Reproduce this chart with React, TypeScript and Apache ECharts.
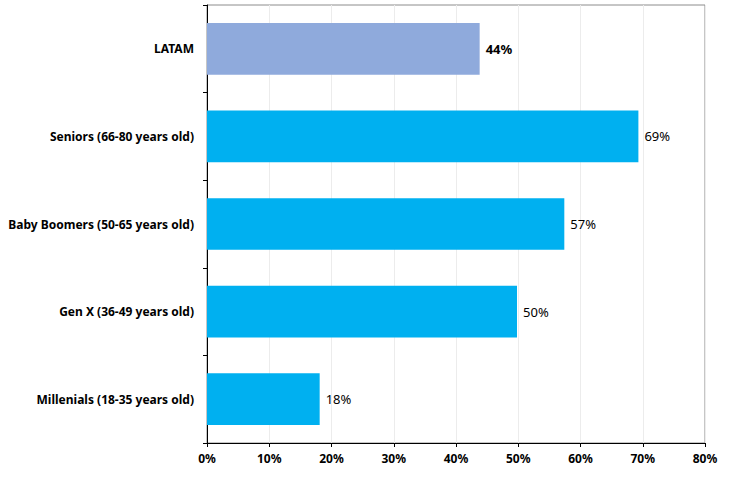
import React, { useEffect, useRef } from "react";
import * as echarts from "echarts";

const categories = [
  "Millenials (18-35 years old)",
  "Gen X (36-49 years old)",
  "Baby Boomers (50-65 years old)",
  "Seniors (66-80 years old)",
  "LATAM",
];
const values = [18.1, 49.8, 57.4, 69.3, 43.8];
const highlight = "LATAM";
const xTicks = { min: 0, max: 80, interval: 10 };

export default function App() {
  const ref = useRef<HTMLDivElement>(null);
  useEffect(() => {
    if (!ref.current) return;
    const chart = echarts.init(ref.current, undefined, { renderer: "svg" });
    const font = "Noto Sans, Open Sans, sans-serif";
    chart.setOption({
      animation: false,
      grid: {
        left: 207,
        right: 26,
        top: 5,
        bottom: 38,
        show: true,
        borderColor: "#8c8c8c",
        borderWidth: 1,
      },
      xAxis: {
        type: "value",
        min: xTicks.min,
        max: xTicks.max,
        interval: xTicks.interval,
        axisLine: { show: true, lineStyle: { color: "#000", width: 1 } },
        axisTick: { show: true, length: 4, lineStyle: { color: "#000" } },
        splitLine: { show: true, lineStyle: { color: "#ececec" } },
        axisLabel: {
          formatter: "{value}%",
          color: "#000",
          fontWeight: "bold",
          fontSize: 12,
          fontFamily: font,
          margin: 9,
        },
      },
      yAxis: {
        type: "category",
        data: categories,
        axisLine: { show: true, lineStyle: { color: "#000", width: 1 } },
        axisTick: { show: true, length: 4, lineStyle: { color: "#000" } },
        axisLabel: {
          color: "#000",
          fontWeight: "bold",
          fontSize: 12,
          fontFamily: font,
          margin: 13,
        },
      },
      series: [
        {
          type: "bar",
          barWidth: "59%",
          data: values.map((v, i) => ({
            value: v,
            itemStyle: { color: categories[i] === highlight ? "#8FAADC" : "#00B0F0" },
            label: {
              fontWeight: categories[i] === highlight ? "bold" : "normal",
            },
          })),
          label: {
            show: true,
            position: "right",
            distance: 6,
            color: "#000",
            fontSize: 13,
            fontFamily: font,
            formatter: (p: any) => Math.round(p.value) + "%",
          },
        },
      ],
    });
    return () => chart.dispose();
  }, []);
  return <div ref={ref} style={{ width: 731, height: 481, position: "absolute", left: 0, top: 0 }} />;
}
